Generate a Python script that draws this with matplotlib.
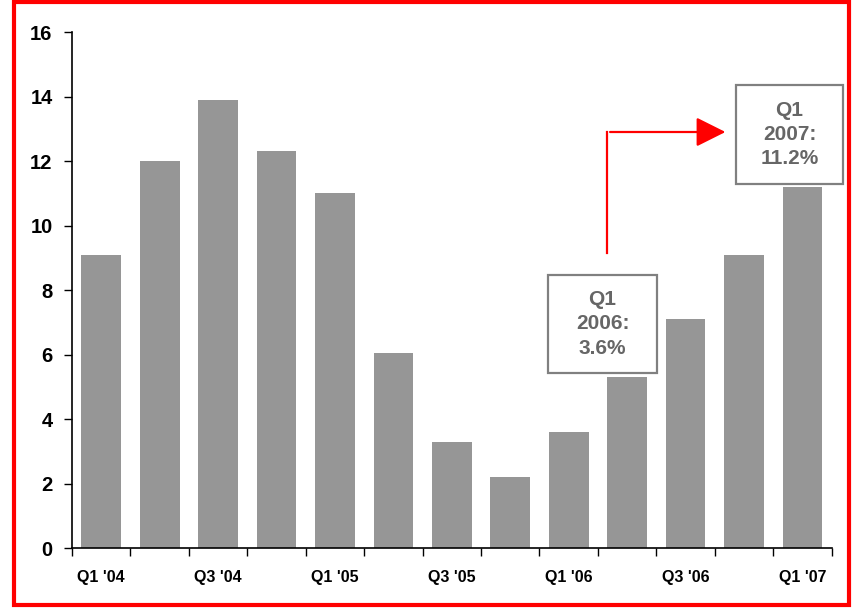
import matplotlib
matplotlib.use("Agg")
import matplotlib.pyplot as plt
from matplotlib.patches import Rectangle, FancyArrowPatch
import numpy as np

quarters = ["Q1 '04", "Q2 '04", "Q3 '04", "Q4 '04", "Q1 '05", "Q2 '05", "Q3 '05",
            "Q4 '05", "Q1 '06", "Q2 '06", "Q3 '06", "Q4 '06", "Q1 '07"]
values = [9.1, 12.0, 13.9, 12.3, 11.0, 6.05, 3.3, 2.2, 3.6, 5.3, 7.1, 9.1, 11.2]
shown_labels = ["Q1 '04", "Q3 '04", "Q1 '05", "Q3 '05", "Q1 '06", "Q3 '06", "Q1 '07"]
yticks = [0, 2, 4, 6, 8, 10, 12, 14, 16]
note1 = "Q1\n2006:\n3.6%"
note2 = "Q1\n2007:\n11.2%"

plt.rcParams['font.family'] = ['Liberation Sans', 'DejaVu Sans']
plt.rcParams['font.weight'] = 'bold'

fig = plt.figure(figsize=(8.53, 6.10), dpi=100)
ax = fig.add_axes([0.0844, 0.1016, 0.8906, 0.8459])

x = np.arange(len(quarters))
ax.bar(x, values, width=0.68, color="#969696", zorder=2)

ax.set_xlim(-0.5, len(quarters) - 0.5)
ax.set_ylim(0, 16)
ax.set_yticks(yticks)
ax.set_yticklabels([str(v) for v in yticks], fontsize=14.5, fontweight='bold')

# major ticks at category boundaries, labels at centers of every second bar
ax.set_xticks(np.arange(-0.5, len(quarters), 1.0))
ax.set_xticklabels([])
ax.tick_params(axis='x', which='major', direction='out', length=6, width=1)
label_pos = [quarters.index(q) for q in shown_labels]
ax.set_xticks(label_pos, minor=True)
ax.set_xticklabels(shown_labels, minor=True, fontsize=11.5, fontweight='bold')
ax.tick_params(axis='x', which='minor', length=0, pad=16)
ax.tick_params(axis='y', direction='out', length=6, width=1, pad=8)

for s in ['top', 'right']:
    ax.spines[s].set_visible(False)
for s in ['left', 'bottom']:
    ax.spines[s].set_linewidth(1.2)

def add_box(cx, cy, w, h, text):
    ax.add_patch(Rectangle((cx - w / 2, cy - h / 2), w, h, facecolor='white',
                           edgecolor='#808080', linewidth=1.6, clip_on=False, zorder=4))
    ax.text(cx, cy, text, ha='center', va='center', fontsize=15, fontweight='bold',
            color='#666666', linespacing=1.35, zorder=5, clip_on=False)

# box1: px x 548-657, y 275-373 ; box2: px x 736-843, y 85-184
add_box(8.58, 6.95, 1.86, 3.04, note1)
add_box(11.78, 12.82, 1.83, 3.07, note2)

# red elbow arrow
ax.plot([8.66, 8.66], [9.15, 12.9], color='red', lw=1.6, zorder=3, clip_on=False)
arr = FancyArrowPatch((8.66, 12.9), (10.73, 12.9), arrowstyle='-|>,head_length=1.3,head_width=0.65',
                      mutation_scale=14, color='red', lw=1.6, zorder=3, clip_on=False)
ax.add_patch(arr)

# red frame around the figure
fig.patches.append(Rectangle((0.016, 0.009), 0.979, 0.988, transform=fig.transFigure,
                             fill=False, edgecolor='red', linewidth=3, zorder=10))

fig.savefig("out.png", dpi=100)
